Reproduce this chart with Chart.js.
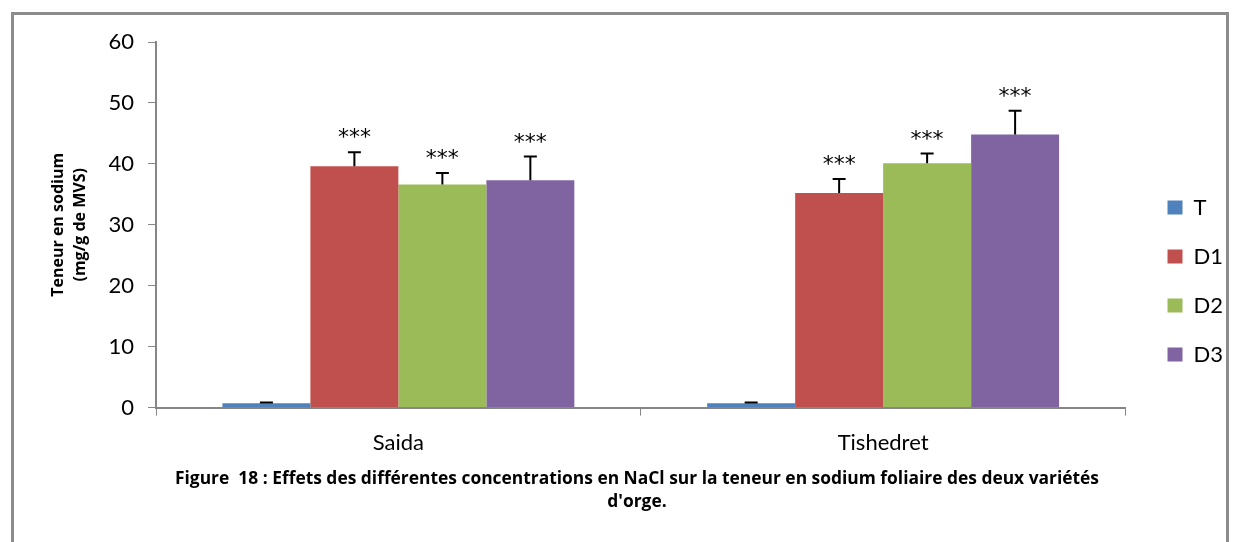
<!DOCTYPE html>
<html>
<head>
<meta charset="utf-8">
<script src="https://cdn.jsdelivr.net/npm/chart.js@4/dist/chart.umd.min.js"></script>
<style>
    html, body { margin: 0; padding: 0; background: #fff; }
    #wrap { position: relative; width: 1233px; height: 542px; overflow: hidden; }
    #frame {
        position: absolute; left: 11px; top: 12px; width: 1218px; height: 560px;
        border: 3px solid #8c8c8c; box-sizing: border-box;
    }
    #chart { position: absolute; left: 0; top: 0; }
</style>
</head>
<body>
<div id="wrap">
    <div id="frame"></div>
    <canvas id="chart" width="1233" height="542"></canvas>
</div>
<script>
const categories = ["Saida", "Tishedret"];
const seriesNames = ["T", "D1", "D2", "D3"];
const seriesColors = ["#4f81bd", "#c0504d", "#9bbb59", "#8064a2"];

const valuesT = [0.7, 0.7];
const valuesD1 = [39.6, 35.2];
const valuesD2 = [36.6, 40.1];
const valuesD3 = [37.3, 44.8];

const errorsT = [0.15, 0.15];
const errorsD1 = [2.3, 2.3];
const errorsD2 = [1.9, 1.6];
const errorsD3 = [3.9, 3.9];

const marksT = ["", ""];
const marksD1 = ["***", "***"];
const marksD2 = ["***", "***"];
const marksD3 = ["***", "***"];

const yTicks = [0, 10, 20, 30, 40, 50, 60];

const captionLines = [
    "Figure  18 : Effets des différentes concentrations en NaCl sur la teneur en sodium foliaire des deux variétés",
    "d'orge."
];

const allValues = [valuesT, valuesD1, valuesD2, valuesD3];
const allErrors = [errorsT, errorsD1, errorsD2, errorsD3];
const allMarks = [marksT, marksD1, marksD2, marksD3];

const FONT = "Lato, 'Open Sans', sans-serif";
const BOLD_FONT = "'Open Sans', Lato, sans-serif";

// error bars + significance stars on top of each bar
const errorBarsPlugin = {
    id: "errorBars",
    afterDatasetsDraw(chart) {
        const ctx = chart.ctx;
        const yScale = chart.scales.y;
        chart.data.datasets.forEach((ds, di) => {
            const meta = chart.getDatasetMeta(di);
            meta.data.forEach((bar, i) => {
                const top = yScale.getPixelForValue(ds.data[i] + allErrors[di][i]);
                ctx.save();
                ctx.strokeStyle = "#000";
                ctx.lineWidth = 2;
                ctx.beginPath();
                ctx.moveTo(bar.x, bar.y);
                ctx.lineTo(bar.x, top);
                ctx.moveTo(bar.x - 6.5, top);
                ctx.lineTo(bar.x + 6.5, top);
                ctx.stroke();
                if (allMarks[di][i]) {
                    ctx.fillStyle = "#000";
                    ctx.font = "22px 'DejaVu Sans', sans-serif";
                    ctx.textAlign = "center";
                    ctx.textBaseline = "alphabetic";
                    ctx.fillText(allMarks[di][i], bar.x, top - 8);
                }
                ctx.restore();
            });
        });
    }
};

// push the legend a bit further from the plot, like the original
const legendGapPlugin = {
    id: "legendGap",
    afterInit(chart) {
        const legend = chart.legend;
        if (!legend) return;
        const fit = legend.fit;
        legend.fit = function () {
            fit.call(this);
            this.width += 9;
        };
    },
    afterLayout(chart) {
        if (chart.legend) {
            chart.legend.left += 15;
            chart.legend.right += 15;
            chart.legend.top += 3;
            chart.legend.bottom += 3;
        }
    }
};

new Chart(document.getElementById("chart"), {
    type: "bar",
    data: {
        labels: categories,
        datasets: seriesNames.map((name, i) => ({
            label: name,
            data: allValues[i],
            backgroundColor: seriesColors[i],
            borderWidth: 0,
            categoryPercentage: 0.726,
            barPercentage: 1.0
        }))
    },
    options: {
        responsive: false,
        animation: false,
        layout: { padding: { left: 47, top: 42, right: 6, bottom: 28 } },
        plugins: {
            tooltip: { enabled: false },
            legend: {
                position: "right",
                labels: {
                    color: "#000",
                    font: { family: FONT, size: 22 },
                    boxWidth: 15,
                    boxHeight: 14,
                    padding: 27
                }
            },
            title: {
                display: true,
                position: "bottom",
                text: captionLines,
                color: "#000",
                font: { family: BOLD_FONT, size: 17.4, weight: "bold", lineHeight: 1.35 },
                padding: { top: -3, bottom: 0 }
            }
        },
        scales: {
            x: {
                offset: true,
                grid: {
                    offset: true,
                    drawOnChartArea: false,
                    tickLength: 8,
                    color: "#868686"
                },
                border: { color: "#868686", width: 2 },
                ticks: {
                    color: "#000",
                    font: { family: FONT, size: 22 },
                    padding: 14
                }
            },
            y: {
                min: 0,
                max: 60,
                afterBuildTicks: (axis) => {
                    axis.ticks = yTicks.map((v) => ({ value: v }));
                },
                afterFit: (axis) => {
                    axis.width = 109;
                },
                grid: {
                    drawOnChartArea: false,
                    tickLength: 8,
                    color: "#868686"
                },
                border: { color: "#868686", width: 2 },
                ticks: {
                    color: "#000",
                    font: { family: FONT, size: 22 },
                    padding: 14
                },
                title: {
                    display: true,
                    text: ["Teneur en sodium", "(mg/g de MVS)"],
                    color: "#000",
                    font: { family: BOLD_FONT, size: 16, weight: "bold", lineHeight: 1.4 },
                    padding: { top: 0, bottom: 0 }
                }
            }
        }
    },
    plugins: [errorBarsPlugin, legendGapPlugin]
});
</script>
</body>
</html>
